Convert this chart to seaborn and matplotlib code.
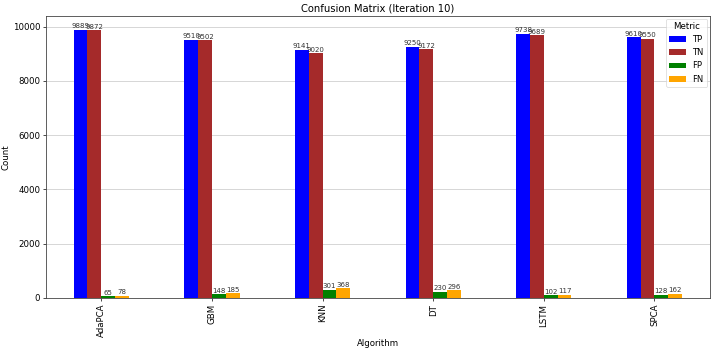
import matplotlib
matplotlib.use("Agg")
import matplotlib.pyplot as plt
import seaborn as sns
import pandas as pd

algorithms = ["AdaPCA", "GBM", "KNN", "DT", "LSTM", "SPCA"]
metrics = ["TP", "TN", "FP", "FN"]
tp = [9889, 9510, 9141, 9250, 9738, 9610]
tn = [9872, 9502, 9020, 9172, 9689, 9550]
fp = [65, 148, 301, 230, 102, 128]
fn = [78, 185, 368, 296, 117, 162]
colors = ["blue", "brown", "green", "orange"]

rows = []
for m, vals in zip(metrics, [tp, tn, fp, fn]):
    for a, v in zip(algorithms, vals):
        rows.append({"Algorithm": a, "Metric": m, "Count": v})
df = pd.DataFrame(rows)

fig, ax = plt.subplots(figsize=(7.14, 3.51), dpi=100)
sns.barplot(data=df, x="Algorithm", y="Count", hue="Metric", order=algorithms,
            hue_order=metrics, palette=colors, width=0.5, saturation=1,
            errorbar=None, ax=ax, zorder=3)
for c in ax.containers:
    ax.bar_label(c, fontsize=5, padding=0.3, color="#333333")
ax.set_xlim(-0.5, 5.5)
ax.set_ylim(0, 10383)
ax.grid(axis="y", color="#d0d0d0", linewidth=0.6, zorder=0)
ax.set_axisbelow(True)
ax.tick_params(axis="x", rotation=90, labelsize=6.2, length=2.2, width=0.5, pad=2)
ax.tick_params(axis="y", labelsize=6.2, length=2.2, width=0.5, pad=2)
ax.set_xlabel("Algorithm", fontsize=6.2, labelpad=1)
ax.set_ylabel("Count", fontsize=6.2, labelpad=1.5)
ax.set_title("Confusion Matrix (Iteration 10)", fontsize=7.2, pad=3)
leg = ax.legend(title="Metric", loc="upper right", fontsize=6, title_fontsize=6.2,
                handlelength=2.0, borderaxespad=0.3)
leg.get_frame().set_linewidth(0.5)
for s in ax.spines.values():
    s.set_color("#444444")
    s.set_linewidth(0.6)
fig.subplots_adjust(left=0.0644, right=0.994, top=0.954, bottom=0.151)
fig.savefig("out.png", dpi=100)
